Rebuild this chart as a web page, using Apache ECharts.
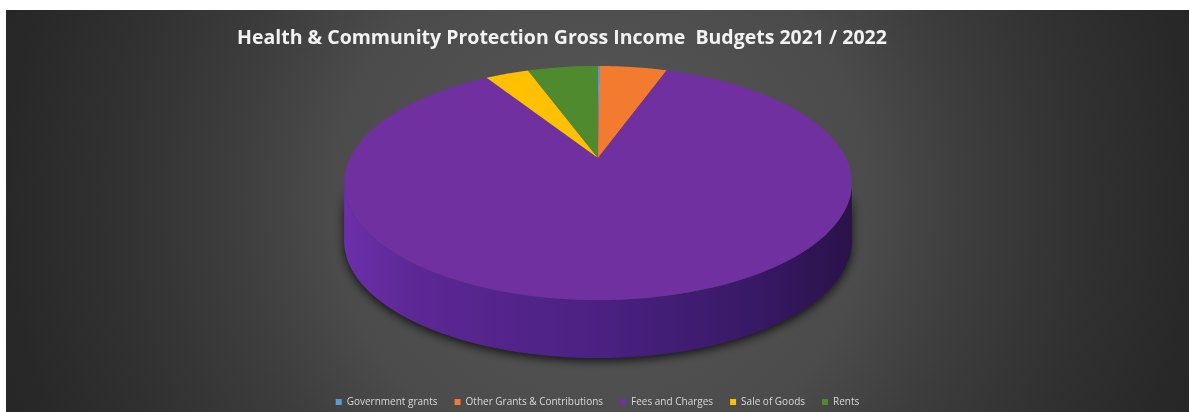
<!DOCTYPE html>
<html>
<head>
<meta charset="utf-8">
<title>Health &amp; Community Protection Gross Income Budgets 2021 / 2022</title>
<script src="https://cdn.jsdelivr.net/npm/echarts@6/dist/echarts.min.js"></script>
<style>
  html, body { margin: 0; padding: 0; background: #ffffff; }
  #chart { position: absolute; left: 6px; top: 10px; width: 1183px; height: 402px; }
</style>
</head>
<body>
<div id="chart"></div>
<script>
// Gross income shares (%) by income type
const categories = ['Government grants', 'Other Grants & Contributions', 'Fees and Charges', 'Sale of Goods', 'Rents'];
const values = [0.1, 5.3, 85.7, 3.4, 5.5];
const colors = ['#5B9BD5', '#F27B2F', '#7030A0', '#FFC000', '#4F8A2E'];

// Tilted-disc geometry (pixels, chart-local)
const CX = 592, CY = 148;      // projected centre of the top face
const RX = 248, RY = 111.7;    // projected radii
const K = 0.2136;              // perspective foreshortening
const DEPTH = 58;              // thickness of the disc
const STEP = Math.PI / 360;

const total = values.reduce((a, b) => a + b, 0);

// angle measured clockwise from the far (12 o'clock) side of the disc
function project(phi, drop) {
  const u = Math.sin(phi), v = Math.cos(phi);
  const w = 1 + K * v;
  return [CX + RX * u / w, CY - RY * v / w + drop];
}

function arc(a0, a1, drop) {
  const pts = [];
  const n = Math.max(2, Math.ceil((a1 - a0) / STEP));
  for (let j = 0; j <= n; j++) pts.push(project(a0 + (a1 - a0) * j / n, drop));
  return pts;
}

// front-facing part of the rim lies between the two silhouette angles
const FRONT_A = Math.acos(-K);
const FRONT_B = 2 * Math.PI - FRONT_A;

const sideFill = {
  type: 'linear', global: true,
  x: CX - RX * 1.03, y: 0, x2: CX + RX * 1.03, y2: 0,
  colorStops: [
    { offset: 0, color: '#6c2faa' },
    { offset: 0.15, color: '#5c2794' },
    { offset: 0.5, color: '#4a2182' },
    { offset: 0.8, color: '#381966' },
    { offset: 1, color: '#2a1249' }
  ]
};

function shade(hex, f) {
  const n = parseInt(hex.slice(1), 16);
  const r = Math.round(((n >> 16) & 255) * f), g = Math.round(((n >> 8) & 255) * f), b = Math.round((n & 255) * f);
  return 'rgb(' + r + ',' + g + ',' + b + ')';
}

function makeRender(idx) {
  return function (params, api) {
    let before = 0;
    for (let j = 0; j < idx; j++) before += values[j];
    const a0 = before / total * 2 * Math.PI;
    const a1 = a0 + api.value(0) / total * 2 * Math.PI;
    const children = [];

    const s0 = Math.max(a0, FRONT_A), s1 = Math.min(a1, FRONT_B);
    if (s1 > s0) {
      const top = arc(s0, s1, 0);
      const bottom = arc(s0, s1, DEPTH).reverse();
      children.push({
        type: 'polygon',
        z2: 1,
        shape: { points: top.concat(bottom) },
        style: {
          fill: idx === 2 ? sideFill : shade(colors[idx], 0.6),
          shadowBlur: 10,
          shadowOffsetY: 3,
          shadowColor: 'rgba(0,0,0,0.75)'
        }
      });
    }

    children.push({
      type: 'polygon',
      z2: 10,
      shape: { points: [[CX, CY]].concat(arc(a0, a1, 0)) },
      style: { fill: colors[idx] }
    });
    return { type: 'group', children: children };
  };
}

const chart = echarts.init(document.getElementById('chart'));

chart.setOption({
  backgroundColor: {
    type: 'radial', global: true,
    x: 594, y: 190, r: 620,
    colorStops: [
      { offset: 0, color: '#5a5a5a' },
      { offset: 0.26, color: '#505050' },
      { offset: 0.435, color: '#4b4b4b' },
      { offset: 0.613, color: '#3c3c3c' },
      { offset: 0.79, color: '#313131' },
      { offset: 0.96, color: '#282828' },
      { offset: 1, color: '#272727' }
    ]
  },
  animation: false,
  title: {
    text: 'Health & Community Protection Gross Income  Budgets 2021 / 2022',
    left: 226,
    top: 13,
    textStyle: {
      color: '#f2f2f2',
      fontFamily: 'Open Sans',
      fontWeight: 'bold',
      fontSize: 19.5
    }
  },
  legend: {
    data: categories,
    left: 'center',
    top: 382,
    icon: 'rect',
    itemWidth: 6,
    itemHeight: 6,
    itemGap: 17,
    textStyle: { color: '#d9d9d9', fontFamily: 'Open Sans', fontSize: 10 }
  },
  series: categories.map((name, i) => ({
    type: 'custom',
    name: name,
    coordinateSystem: 'none',
    itemStyle: { color: colors[i] },
    renderItem: makeRender(i),
    data: [values[i]]
  }))
});
</script>
</body>
</html>
